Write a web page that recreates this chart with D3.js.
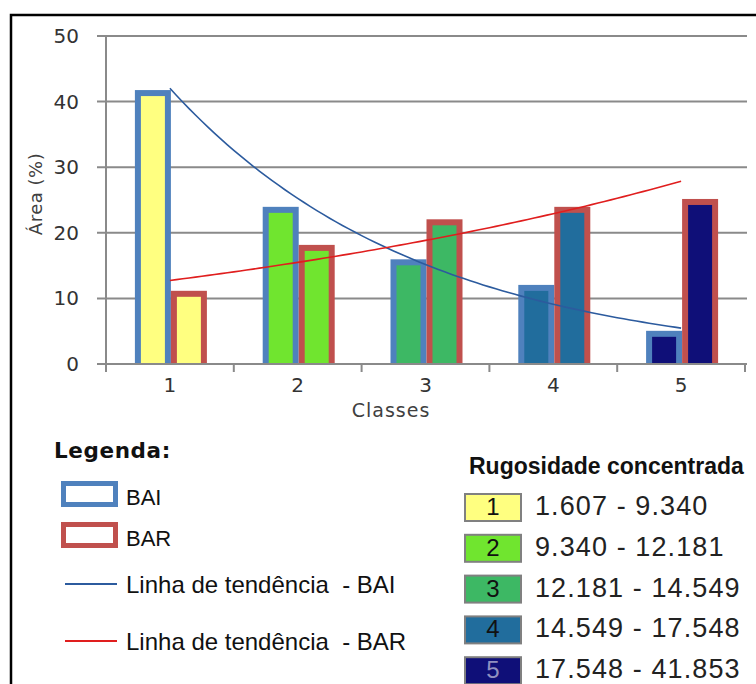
<!DOCTYPE html>
<html>
<head>
<meta charset="utf-8">
<script src="https://cdn.jsdelivr.net/npm/d3@7/dist/d3.min.js"></script>
<style>
  html, body { margin: 0; padding: 0; background: #fff; }
  svg { display: block; }
  text { white-space: pre; }
</style>
</head>
<body>
<svg id="chart" width="756" height="684"></svg>
<script>
// Área (%) por classe de rugosidade concentrada, BAI vs BAR
const classes = ["1", "2", "3", "4", "5"];
const baiValues = [41.3, 23.5, 15.5, 11.6, 4.6];
const barValues = [10.7, 17.7, 21.6, 23.5, 24.7];
const yTicks = [0, 10, 20, 30, 40, 50];
const rangeLabels = [
  "1.607 - 9.340",
  "9.340 - 12.181",
  "12.181 - 14.549",
  "14.549 - 17.548",
  "17.548 - 41.853"
];
const seriesNames = ["BAI", "BAR"];
const trendLabels = ["Linha de tendência  - BAI", "Linha de tendência  - BAR"];

// palette
const classFill = ["#FFFF80", "#70E52F", "#3DB864", "#216D9D", "#0F0F78"];
const seriesStroke = { BAI: "#4F81BD", BAR: "#C0504D" };
const trendStroke = { BAI: "#2C5B9E", BAR: "#E01E1E" };

const svg = d3.select("#chart");

// outer frame
svg.append("rect")
  .attr("x", 11).attr("y", 15)
  .attr("width", 820).attr("height", 720)
  .attr("fill", "none").attr("stroke", "#000").attr("stroke-width", 2.5);

const plot = { left: 106, right: 745, top: 36, bottom: 364 };

const x = d3.scaleBand().domain(classes).range([plot.left, plot.right]);
const xs = d3.scaleBand().domain(seriesNames).range([-35, 37]);
const xNum = d3.scaleLinear().domain([0.5, 5.5]).range([plot.left, plot.right]);
const y = d3.scaleLinear().domain([0, 50]).range([plot.bottom, plot.top]);

// gridlines with outside ticks
svg.append("g")
  .selectAll("line")
  .data(yTicks)
  .join("line")
  .attr("x1", plot.left - 9)
  .attr("x2", plot.right + 2)
  .attr("y1", d => y(d)).attr("y2", d => y(d))
  .attr("stroke", "#8A8A8A").attr("stroke-width", 2);

// y tick labels
const yAxis = d3.axisLeft(y).tickValues(yTicks).tickSize(0).tickPadding(27);
const gy = svg.append("g").attr("transform", `translate(${plot.left},0)`).call(yAxis);
gy.select(".domain").remove();
gy.selectAll("text")
  .attr("font-family", "DejaVu Sans")
  .attr("font-size", 20)
  .attr("fill", "#333");

// bars
svg.append("clipPath").attr("id", "plotclip")
  .append("rect").attr("x", plot.left).attr("y", 0)
  .attr("width", plot.right - plot.left).attr("height", plot.bottom);

const rows = classes.map((c, i) => ({ c, i, BAI: baiValues[i], BAR: barValues[i] }));
const sw = 6;
const barsG = svg.append("g").attr("clip-path", "url(#plotclip)");
seriesNames.forEach(s => {
  barsG.selectAll(null)
    .data(rows)
    .join("rect")
    .attr("x", d => x(d.c) + x.bandwidth() / 2 + xs(s) + sw / 2)
    .attr("width", xs.bandwidth() - sw)
    .attr("y", d => y(d[s]))
    .attr("height", d => y(0) - y(d[s]) + sw)
    .attr("fill", d => classFill[d.i])
    .attr("stroke", seriesStroke[s])
    .attr("stroke-width", sw);
});

// axes lines
svg.append("line")
  .attr("x1", plot.left).attr("x2", plot.left)
  .attr("y1", plot.top).attr("y2", plot.bottom + 8)
  .attr("stroke", "#8A8A8A").attr("stroke-width", 2);

const xAxis = d3.axisBottom(x).tickSize(0).tickPadding(14);
const gx = svg.append("g").attr("transform", `translate(0,${plot.bottom})`).call(xAxis);
gx.select(".domain").attr("stroke", "#8A8A8A").attr("stroke-width", 2).attr("d", `M${plot.left},0H${plot.right + 1}`);
gx.selectAll("text")
  .attr("font-family", "DejaVu Sans")
  .attr("font-size", 20)
  .attr("fill", "#333");
// category boundary ticks
svg.append("g").selectAll("line")
  .data(classes.concat(["end"]))
  .join("line")
  .attr("x1", (d, i) => i < classes.length ? x(d) : plot.right)
  .attr("x2", (d, i) => i < classes.length ? x(d) : plot.right)
  .attr("y1", plot.bottom).attr("y2", plot.bottom + 8)
  .attr("stroke", "#8A8A8A").attr("stroke-width", 2);

// exponential trend lines (least squares on ln y)
function expFit(vals) {
  const xsv = vals.map((v, i) => i + 1);
  const ln = vals.map(v => Math.log(v));
  const mx = d3.mean(xsv), my = d3.mean(ln);
  const b = d3.sum(xsv, (xv, i) => (xv - mx) * (ln[i] - my)) / d3.sum(xsv, xv => (xv - mx) ** 2);
  const a = Math.exp(my - b * mx);
  return t => a * Math.exp(b * t);
}
const trendLine = d3.line().x(d => xNum(d[0])).y(d => y(d[1]));
[["BAI", baiValues], ["BAR", barValues]].forEach(([s, vals]) => {
  const f = expFit(vals);
  const pts = d3.range(1, 5.0001, 0.05).map(t => [t, f(t)]);
  svg.append("path")
    .attr("d", trendLine(pts))
    .attr("fill", "none")
    .attr("stroke", trendStroke[s])
    .attr("stroke-width", 1.6);
});

// axis titles
svg.append("text")
  .attr("transform", "translate(42,194) rotate(-90)")
  .attr("text-anchor", "middle")
  .attr("font-family", "DejaVu Sans")
  .attr("font-size", 18)
  .attr("letter-spacing", 0.5)
  .attr("fill", "#404040")
  .text("Área (%)");

svg.append("text")
  .attr("x", 391).attr("y", 417)
  .attr("text-anchor", "middle")
  .attr("font-family", "DejaVu Sans")
  .attr("font-size", 19)
  .attr("letter-spacing", 1)
  .attr("fill", "#404040")
  .text("Classes");

// left legend
svg.append("text")
  .attr("x", 54).attr("y", 458)
  .attr("font-family", "DejaVu Sans").attr("font-weight", "bold")
  .attr("font-size", 21.5).attr("letter-spacing", 0.6)
  .attr("fill", "#111")
  .text("Legenda:");

const legS = svg.append("g");
seriesNames.forEach((s, i) => {
  legS.append("rect")
    .attr("x", 63.5).attr("y", 483.5 + i * 41)
    .attr("width", 52).attr("height", 21)
    .attr("fill", "#fff")
    .attr("stroke", seriesStroke[s]).attr("stroke-width", 5);
  legS.append("text")
    .attr("x", 126).attr("y", 505 + i * 41)
    .attr("font-family", "Liberation Sans")
    .attr("font-size", 22)
    .attr("fill", "#111")
    .text(s);
});
seriesNames.forEach((s, i) => {
  const ly = 584 + i * 57;
  legS.append("line")
    .attr("x1", 65).attr("x2", 117)
    .attr("y1", ly).attr("y2", ly)
    .attr("stroke", trendStroke[s]).attr("stroke-width", 2);
  legS.append("text")
    .attr("x", 126).attr("y", ly + 9)
    .attr("font-family", "Liberation Sans")
    .attr("font-size", 24)
    .attr("fill", "#111")
    .text(trendLabels[i]);
});

// right legend: class ranges
svg.append("text")
  .attr("x", 469).attr("y", 474)
  .attr("font-family", "Liberation Sans").attr("font-weight", "bold")
  .attr("font-size", 23)
  .attr("fill", "#111")
  .text("Rugosidade concentrada");

const legC = svg.append("g").selectAll("g")
  .data(classes)
  .join("g")
  .attr("transform", (d, i) => `translate(0,${493 + i * 40.8})`);
legC.append("rect")
  .attr("x", 465).attr("y", 1)
  .attr("width", 56).attr("height", 27)
  .attr("fill", (d, i) => classFill[i])
  .attr("stroke", "#808080").attr("stroke-width", 2);
legC.append("text")
  .attr("x", 493).attr("y", 22)
  .attr("text-anchor", "middle")
  .attr("font-family", "Liberation Sans")
  .attr("font-size", 24)
  .attr("fill", (d, i) => i === 4 ? "#9090c0" : "#111")
  .text(d => d);
legC.append("text")
  .attr("x", 535).attr("y", 22)
  .attr("font-family", "Liberation Sans")
  .attr("font-size", 27)
  .attr("letter-spacing", 1.1)
  .attr("fill", "#222")
  .text((d, i) => rangeLabels[i]);
</script>
</body>
</html>
